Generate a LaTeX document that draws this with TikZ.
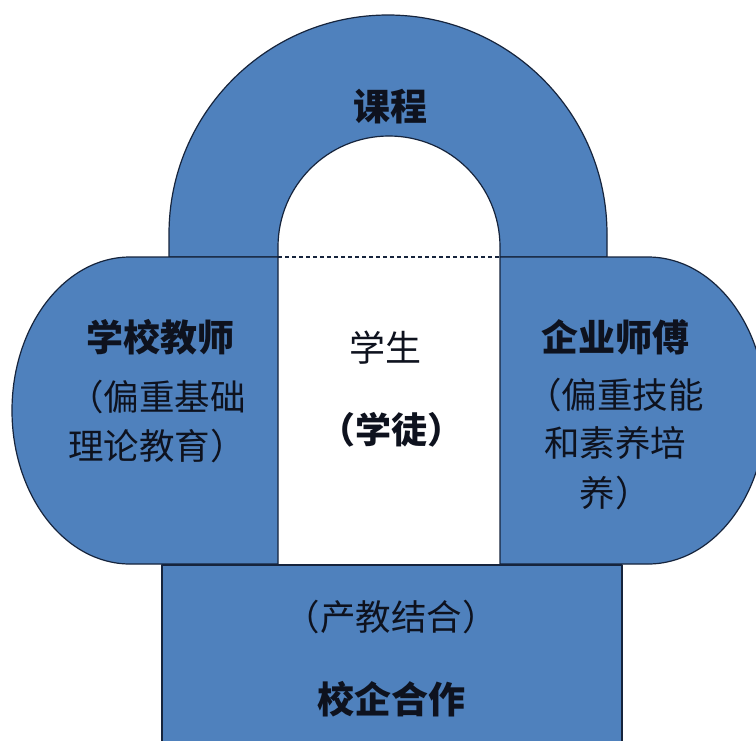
\documentclass[tikz,border=0pt]{standalone}
\usepackage{fontspec}
\newfontfamily\cjk{Noto Sans CJK SC}
\definecolor{blockblue}{RGB}{79,129,189}
\definecolor{edgeline}{RGB}{22,36,60}
\definecolor{inktext}{RGB}{14,18,30}
\tikzset{
  blockshape/.style={fill=blockblue, draw=edgeline, line width=1.2pt, line join=round},
  boldlabel/.style={font=\cjk\bfseries\fontsize{37}{40}\selectfont, text=inktext, inner sep=0pt},
  plainlabel/.style={font=\cjk\fontsize{35.5}{38}\selectfont, text=inktext, inner sep=0pt},
}
\begin{document}
\begin{tikzpicture}[x=1pt,y=1pt]
\useasboundingbox (0,0) rectangle (756,-740);
\fill[white] (0,0) rectangle (756,-740);
% arch (course)
\path[blockshape] (169,-257) -- (169,-234) arc[start angle=180, end angle=0, radius=219]
  -- (607,-257) -- (500,-257) -- (500,-247) arc[start angle=0, end angle=180, radius=111]
  -- (278,-257) -- cycle;
% left block
\path[blockshape] (278,-257) -- (130,-257) arc[start angle=90, end angle=270, x radius=118, y radius=153.5]
  -- (278,-564) -- cycle;
% right block
\path[blockshape] (500,-257) -- (648,-257) arc[start angle=90, end angle=-90, x radius=118, y radius=153.5]
  -- (500,-564) -- cycle;
% dashed top of student area
\coordinate (dl) at (278,-257);
\coordinate (dr) at (500,-257);
\draw[edgeline, line width=1.2pt, dash pattern=on 4pt off 3pt] (dl) -- (dr);
% bottom block
\path[blockshape] (162,-565) rectangle (622,-760);
% texts
\node[boldlabel] (kc) at (390,-107) {课程};
\node[boldlabel] (xxjs) at (160,-337) {学校教师};
\node[plainlabel] (l2) at (157,-397) {（偏重基础};
\node[plainlabel] (l3) at (157,-446) {理论教育）};
\node[boldlabel] (qysf) at (615,-337) {企业师傅};
\node[plainlabel] (r2) at (615,-395) {（偏重技能};
\node[plainlabel] (r3) at (615,-443) {和素养培};
\node[plainlabel] (r4) at (615,-493) {养）};
\node[plainlabel, font=\cjk\fontsize{36}{40}\selectfont] (xs) at (385,-348) {学生};
\node[boldlabel, font=\cjk\bfseries\fontsize{36}{40}\selectfont] (xt) at (391,-430) {（学徒）};
\node[plainlabel] (cj) at (391,-617) {（产教结合）};
\node[boldlabel] (xq) at (391,-699) {校企合作};
\end{tikzpicture}
\end{document}
